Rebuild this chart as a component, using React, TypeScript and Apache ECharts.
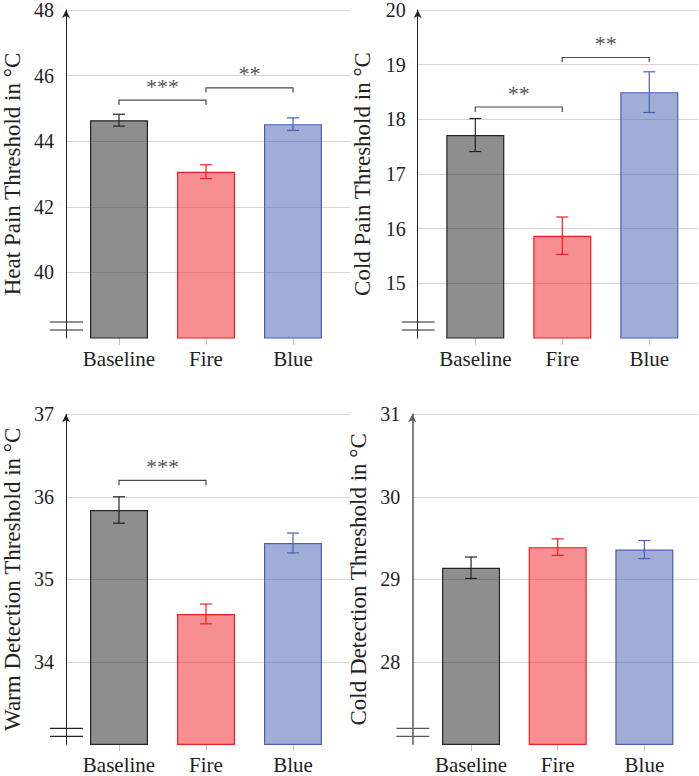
import React, { useEffect, useRef } from "react";
import * as echarts from "echarts";

const CATEGORIES = ["Baseline", "Fire", "Blue"];

const HEAT_PAIN_MEAN = [44.6, 43.04, 44.48];
const HEAT_PAIN_ERR = [0.18, 0.21, 0.19];
const COLD_PAIN_MEAN = [17.69, 15.86, 18.47];
const COLD_PAIN_ERR = [0.3, 0.34, 0.37];
const WARM_DET_MEAN = [35.84, 34.58, 35.44];
const WARM_DET_ERR = [0.16, 0.12, 0.12];
const COLD_DET_MEAN = [29.14, 29.39, 29.36];
const COLD_DET_ERR = [0.13, 0.1, 0.11];

// significance brackets: [fromIndex, toIndex, bracketValue, endValue]
const HEAT_PAIN_SIG = [[0, 1, 45.21, 45.06], [1, 2, 45.58, 45.44]];
const HEAT_PAIN_SIG_LABELS = ["***", "**"];
const COLD_PAIN_SIG = [[0, 1, 18.2, 18.11], [1, 2, 19.1, 19.02]];
const COLD_PAIN_SIG_LABELS = ["**", "**"];
const WARM_DET_SIG = [[0, 1, 36.2, 36.14]];
const WARM_DET_SIG_LABELS = ["***"];
const COLD_DET_SIG: number[][] = [];
const COLD_DET_SIG_LABELS: string[] = [];

// axis ranges [min, max, interval]
const HEAT_PAIN_AXIS = [38, 48, 2];
const COLD_PAIN_AXIS = [14, 20, 1];
const WARM_DET_AXIS = [33, 37, 1];
const COLD_DET_AXIS = [27, 31, 1];

const TITLES = [
  "Heat Pain Threshold in °C",
  "Cold Pain Threshold in °C",
  "Warm Detection Threshold in °C",
  "Cold Detection Threshold in °C",
];

const FILLS = ["rgba(31,29,29,0.5)", "rgba(239,29,35,0.5)", "rgba(65,93,175,0.5)"];
const STROKES = ["#262424", "#ef1d23", "#4a5fb4"];

const FONT = "Liberation Serif";

const PANELS = [
  { mean: HEAT_PAIN_MEAN, err: HEAT_PAIN_ERR, sig: HEAT_PAIN_SIG, sigLabels: HEAT_PAIN_SIG_LABELS, axis: HEAT_PAIN_AXIS,
    layout: { axisX: 61, right: 350, top: 8, bottom: 338, barLeft: 75.5, barWidthAll: 261, nameGap: 42 }, axisColor: "#222" },
  { mean: COLD_PAIN_MEAN, err: COLD_PAIN_ERR, sig: COLD_PAIN_SIG, sigLabels: COLD_PAIN_SIG_LABELS, axis: COLD_PAIN_AXIS,
    layout: { axisX: 417.7, right: 698, top: 8, bottom: 338, barLeft: 431.8, barWidthAll: 261, nameGap: 44 }, axisColor: "#222" },
  { mean: WARM_DET_MEAN, err: WARM_DET_ERR, sig: WARM_DET_SIG, sigLabels: WARM_DET_SIG_LABELS, axis: WARM_DET_AXIS,
    layout: { axisX: 61, right: 350, top: 414.3, bottom: 744.3, barLeft: 75.5, barWidthAll: 261, nameGap: 42 }, axisColor: "#222" },
  { mean: COLD_DET_MEAN, err: COLD_DET_ERR, sig: COLD_DET_SIG, sigLabels: COLD_DET_SIG_LABELS, axis: COLD_DET_AXIS,
    layout: { axisX: 412.3, right: 698, top: 414.3, bottom: 744.3, barLeft: 427.7, barWidthAll: 260, nameGap: 42 }, axisColor: "#5a5a5a" },
];

function buildOption() {
  const grid: any[] = [];
  const xAxis: any[] = [];
  const yAxis: any[] = [];
  const series: any[] = [];

  PANELS.forEach((p, k) => {
    const L = p.layout;
    const [min, max, interval] = p.axis;
    const nTicks = Math.round((max - min) / interval) + 1;
    const splitColors = ["rgba(0,0,0,0)"];
    for (let i = 1; i < nTicks; i++) splitColors.push("#d6d6d6");
    const gA = k * 2;
    const gB = k * 2 + 1;
    grid.push({ left: L.axisX, top: L.top, width: L.right - L.axisX, height: L.bottom - L.top });
    grid.push({ left: L.barLeft, top: L.top, width: L.barWidthAll, height: L.bottom - L.top });

    xAxis.push({ gridIndex: gA, type: "value", min: 0, max: 1, show: false });
    xAxis.push({
      gridIndex: gB,
      type: "category",
      data: CATEGORIES,
      axisLine: { show: false },
      axisTick: { show: true, alignWithLabel: true, interval: 0, length: 7, lineStyle: { color: "#c4c4c4", width: 1 } },
      axisLabel: { fontFamily: FONT, fontSize: 21, color: "#222", margin: 10, interval: 0, hideOverlap: false },
      splitLine: { show: false },
    });

    yAxis.push({
      gridIndex: gA,
      type: "value",
      min,
      max,
      interval,
      name: TITLES[k],
      nameLocation: "middle",
      nameGap: L.nameGap,
      nameTextStyle: { fontFamily: FONT, fontSize: 23, color: "#222" },
      axisLine: {
        show: true,
        onZero: false,
        symbol: ["none", "arrow"],
        symbolSize: [6, 8],
        lineStyle: { color: p.axisColor, width: k === 3 ? 1.5 : 1 },
      },
      axisTick: { show: false },
      axisLabel: { fontFamily: FONT, fontSize: 20, color: "#222", margin: 12, showMinLabel: false },
      splitLine: { show: true, lineStyle: { color: splitColors, width: 1 } },
    });
    yAxis.push({ gridIndex: gB, type: "value", min, max, show: false, splitLine: { show: false } });

    // axis break marks
    series.push({
      type: "custom",
      xAxisIndex: gA,
      yAxisIndex: gA,
      clip: false,
      silent: true,
      data: [[0, min]],
      renderItem: (params: any, api: any) => {
        const pt = api.coord([api.value(0), api.value(1)]);
        const color = p.axisColor;
        return {
          type: "group",
          children: [
            { type: "line", shape: { x1: pt[0] - 16, y1: pt[1] - 16, x2: pt[0] + 17, y2: pt[1] - 16 }, style: { stroke: color, lineWidth: 1.2 } },
            { type: "line", shape: { x1: pt[0] - 16, y1: pt[1] - 8, x2: pt[0] + 17, y2: pt[1] - 8 }, style: { stroke: color, lineWidth: 1.2 } },
          ],
        };
      },
    });

    // bars
    series.push({
      type: "bar",
      xAxisIndex: gB,
      yAxisIndex: gB,
      barWidth: 58,
      data: p.mean.map((v, i) => ({
        value: v,
        itemStyle: { color: FILLS[i], borderColor: STROKES[i], borderWidth: 1.2 },
      })),
    });

    // error bars
    series.push({
      type: "custom",
      xAxisIndex: gB,
      yAxisIndex: gB,
      clip: false,
      silent: true,
      encode: { x: 0, y: [1, 2] },
      data: p.mean.map((v, i) => [i, v - p.err[i], v + p.err[i]]),
      renderItem: (params: any, api: any) => {
        const x = api.value(0);
        const lo = api.coord([x, api.value(1)]);
        const hi = api.coord([x, api.value(2)]);
        const c = STROKES[params.dataIndex];
        const cap = 6;
        const st = { stroke: c, lineWidth: 1.2 };
        return {
          type: "group",
          children: [
            { type: "line", shape: { x1: lo[0], y1: lo[1], x2: hi[0], y2: hi[1] }, style: st },
            { type: "line", shape: { x1: lo[0] - cap, y1: lo[1], x2: lo[0] + cap, y2: lo[1] }, style: st },
            { type: "line", shape: { x1: hi[0] - cap, y1: hi[1], x2: hi[0] + cap, y2: hi[1] }, style: st },
          ],
        };
      },
    });

    // significance brackets
    if (p.sig.length) {
      series.push({
        type: "custom",
        xAxisIndex: gB,
        yAxisIndex: gB,
        clip: false,
        silent: true,
        encode: { x: [0, 1], y: [2, 3] },
        data: p.sig,
        renderItem: (params: any, api: any) => {
          const a = api.coord([api.value(0), api.value(2)]);
          const b = api.coord([api.value(1), api.value(2)]);
          const e = api.coord([api.value(0), api.value(3)]);
          const label = p.sigLabels[params.dataIndex];
          return {
            type: "group",
            children: [
              {
                type: "polyline",
                shape: { points: [[a[0], e[1]], [a[0], a[1]], [b[0], b[1]], [b[0], e[1]]] },
                style: { stroke: "#4a4a4a", lineWidth: 1.2, fill: "none" },
              },
              {
                type: "text",
                x: (a[0] + b[0]) / 2,
                y: a[1] - 14,
                style: {
                  text: label,
                  fontFamily: FONT,
                  fontSize: 22,
                  fill: "#555",
                  align: "center",
                  verticalAlign: "middle",
                },
              },
            ],
          };
        },
      });
    }
  });

  return { animation: false, backgroundColor: "#ffffff", grid, xAxis, yAxis, series };
}

export default function App() {
  const ref = useRef<HTMLDivElement>(null);
  useEffect(() => {
    if (!ref.current) return;
    const chart = echarts.init(ref.current, undefined, { renderer: "svg" });
    chart.setOption(buildOption() as any);
    return () => chart.dispose();
  }, []);
  return (
    <div
      ref={ref}
      style={{ position: "fixed", left: 0, top: 0, width: 699, height: 776, background: "#fff" }}
    />
  );
}
